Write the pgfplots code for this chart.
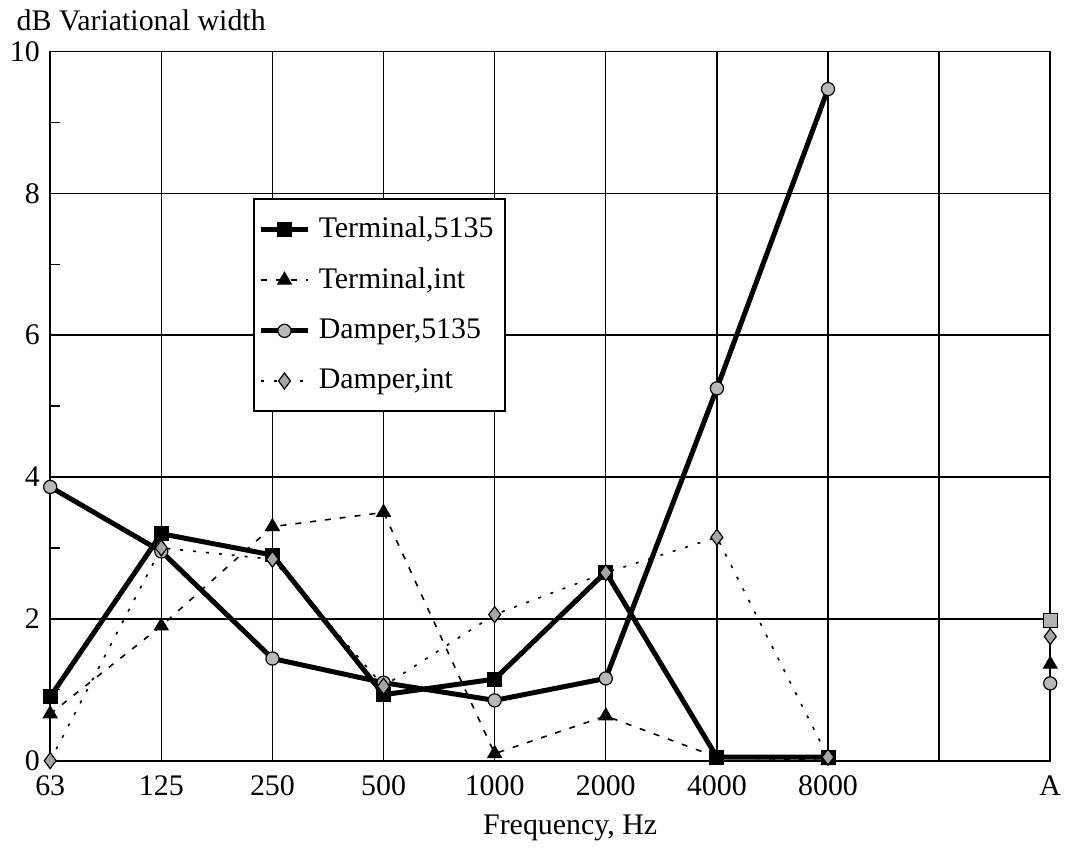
\documentclass[border=0pt]{standalone}
\usepackage{fontspec}
\setmainfont{Liberation Serif}
\usepackage{pgfplots}
\pgfplotsset{compat=1.18}

\begin{document}
\fontsize{15}{18}\selectfont
\begin{tikzpicture}
\begin{axis}[
    scale only axis,
    width=502pt, height=356pt,
    xmin=0, xmax=9, ymin=0, ymax=10,
    xtick={0,...,9},
    xticklabels={63,125,250,500,1000,2000,4000,8000,,A},
    ytick={0,2,...,10},
    minor ytick={1,3,...,9},
    grid=major,
    grid style={black, line width=0.7pt},
    axis line style={black, line width=0.9pt},
    tick style={black, line width=0.6pt},
    major tick length=0pt,
    minor tick length=5pt,
    tick align=inside,
    xtick pos=bottom, ytick pos=left,
    /pgf/number format/assume math mode=true,
    tick label style={font=\fontsize{15}{18}\selectfont},
    xticklabel style={yshift=-2.5pt},
    xlabel={Frequency, Hz},
    xlabel style={font=\fontsize{15}{18}\selectfont, xshift=10pt, yshift=1pt},
    ylabel={dB Variational width},
    every axis y label/.style={at={(rel axis cs:0,1)}, anchor=south west,
        xshift=-22pt, yshift=5pt, font=\fontsize{15}{18}\selectfont},
    clip=false,
    legend style={at={(rel axis cs:0.203,0.794)}, anchor=north west,
        draw=black, line width=1pt, fill=white,
        font=\fontsize{15}{18}\selectfont,
        row sep=9pt, inner xsep=2pt, inner ysep=7pt,
        nodes={inner xsep=4pt}},
    legend cell align=left,
    legend image code/.code={\draw[mark repeat=2,mark phase=2,#1]
        plot coordinates {(0cm,0cm) (0.42cm,0cm) (0.84cm,0cm)};},
]
% Terminal,5135
\addplot[black, line width=2.5pt, mark=square*, mark size=3.5pt,
    mark options={solid, fill=black, line width=0.5pt}] coordinates {
(0,0.9) (1,3.2) (2,2.9) (3,0.93) (4,1.15) (5,2.66) (6,0.05) (7,0.05)
};
\addlegendentry{Terminal,5135}
% Terminal,int
\addplot[black, line width=0.8pt, dash pattern=on 3pt off 4.5pt,
    mark=triangle*, mark size=4pt,
    mark options={solid, fill=black, line width=0.5pt}] coordinates {
(0,0.66) (1,1.9) (2,3.3) (3,3.5) (4,0.1) (5,0.63) (6,0.05) (7,0.0)
};
\addlegendentry{Terminal,int}
% Damper,5135
\addplot[black, line width=2.5pt, mark=*, mark size=3.3pt,
    mark options={solid, fill=gray!55, line width=0.6pt}] coordinates {
(0,3.86) (1,2.95) (2,1.44) (3,1.1) (4,0.85) (5,1.16) (6,5.25) (7,9.47)
};
\addlegendentry{Damper,5135}
% Damper,int
\addplot[black, line width=0.8pt, dash pattern=on 1.5pt off 5pt,
    mark=diamond*, mark size=4pt,
    mark options={solid, fill=gray!70, line width=0.6pt}] coordinates {
(0,0) (1,3.0) (2,2.84) (3,1.05) (4,2.06) (5,2.65) (6,3.15) (7,0.05)
};
\addlegendentry{Damper,int}
% A-weighted values
\addplot[only marks, mark=square*, mark size=3.5pt,
    mark options={fill=gray!60, draw=black, line width=0.5pt},
    forget plot] coordinates {(9,1.97)};
\addplot[only marks, mark=triangle*, mark size=4pt,
    mark options={fill=black, draw=black},
    forget plot] coordinates {(9,1.36)};
\addplot[only marks, mark=*, mark size=3.3pt,
    mark options={fill=gray!55, draw=black, line width=0.6pt},
    forget plot] coordinates {(9,1.09)};
\addplot[only marks, mark=diamond*, mark size=4pt,
    mark options={fill=gray!70, draw=black, line width=0.6pt},
    forget plot] coordinates {(9,1.75)};
\end{axis}
\end{tikzpicture}
\end{document}
